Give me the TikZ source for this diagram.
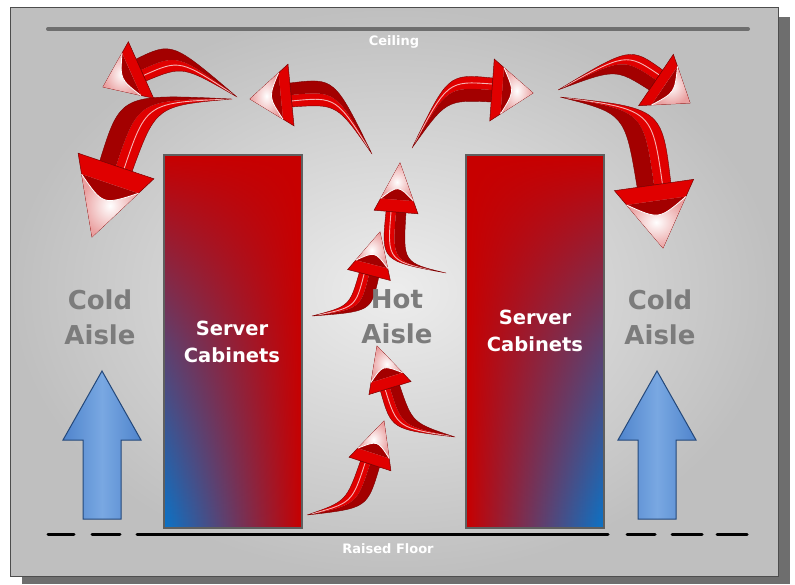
\documentclass[tikz,border=0pt]{standalone}
\usepackage{fontspec}
\setmainfont{DejaVu Sans}
\usetikzlibrary{calc,fadings}
\definecolor{bgin}{HTML}{EDEDED}
\definecolor{bgout}{HTML}{BFBFBF}
\definecolor{shadowgrey}{HTML}{6E6E6E}
\definecolor{framegrey}{HTML}{4D4D4D}
\definecolor{ceilgrey}{HTML}{6E6E6E}
\definecolor{cabred}{HTML}{C80000}
\definecolor{cabblue}{HTML}{0A74C8}
\definecolor{cabedge}{HTML}{5F5F5F}
\definecolor{aislegrey}{HTML}{7C7C7C}
\definecolor{coldblue}{HTML}{4F84CC}
\definecolor{coldlight}{HTML}{79A8E2}
\definecolor{coldedge}{HTML}{24487A}
\definecolor{arrowred}{HTML}{E00000}
\definecolor{arrowdark}{HTML}{A30000}
\definecolor{arrowedge}{HTML}{7A0000}
\definecolor{arrowpink}{HTML}{EAA0A0}

\tikzfading[name=cabfade, top color=transparent!0, bottom color=transparent!100, middle color=transparent!55]

% curved red arrow: tail, head base, tip, bend, head half width, shaft half width
\newcommand{\hotarrow}[6]{%
  \coordinate (aT) at #1;
  \coordinate (aB) at #2;
  \coordinate (aP) at #3;
  \coordinate (aC) at ($(aB)!#4pt!180:(aP)$);
  \coordinate (aL) at ($(aB)!#6pt!90:(aP)$);
  \coordinate (aR) at ($(aB)!#6pt!-90:(aP)$);
  \coordinate (aCL) at ($(aC)!1.1*#6pt!90:(aB)$);
  \coordinate (aCR) at ($(aC)!1.1*#6pt!-90:(aB)$);
  \coordinate (aH1) at ($(aB)!#5pt!90:(aP)$);
  \coordinate (aH2) at ($(aB)!#5pt!-90:(aP)$);
  \coordinate (aF1) at ($(aH1)!0.25!(aP)$);
  \coordinate (aF2) at ($(aH2)!0.25!(aP)$);
  \fill[arrowred] (aT) .. controls (aCL) .. (aL) -- (aB) .. controls (aC) .. (aT) -- cycle;
  \fill[arrowdark] (aT) .. controls (aCR) .. (aR) -- (aB) .. controls (aC) .. (aT) -- cycle;
  \draw[white, opacity=0.7, line width=0.9pt] (aT) .. controls ($(aC)!0.5*#6pt!90:(aB)$) .. ($(aB)!0.5*#6pt!90:(aP)$);
  \draw[arrowedge, line width=0.4pt] (aT) .. controls (aCL) .. (aL) -- (aR) .. controls (aCR) .. (aT);
  \filldraw[fill=arrowred, draw=arrowedge, line width=0.5pt] (aH1) -- (aP) -- (aH2) -- cycle;
  \shade[inner color=white, outer color=arrowpink] (aF1) -- (aP) -- (aF2) -- cycle;
  \fill[arrowdark] (aF1) .. controls ($(aB)!0.55!(aP)$) .. (aF2) -- cycle;
  \draw[white, line width=0.8pt] (aF1) .. controls ($(aB)!0.55!(aP)$) .. (aF2);
}

\begin{document}
\begin{tikzpicture}[x=1pt, y=-1pt,
    frame/.style={draw=framegrey, line width=1pt},
    cabinet/.style={draw=cabedge, line width=1.5pt},
    aisle/.style={font=\fontsize{26}{35}\selectfont\bfseries, text=aislegrey, align=center, inner sep=0pt},
    cabtext/.style={font=\fontsize{19.5}{26.5}\selectfont\bfseries, text=white, align=center, inner sep=0pt},
    edgetext/.style={font=\fontsize{13}{15}\selectfont\bfseries, text=white, anchor=base, inner sep=0pt},
    coldarrow/.style={draw=coldedge, line width=1pt, left color=coldblue, right color=coldblue, middle color=coldlight},
    floorline/.style={line width=3pt, line cap=round}]
  \useasboundingbox (0,0) rectangle (795,584);
  % frame with shadow
  \fill[shadowgrey] (22,17) rectangle (790,584);
  \shade[inner color=bgin, outer color=bgout] (10,7) rectangle (778,576);
  \draw[frame] (10,7) rectangle (778,576);
  % ceiling and raised floor
  \draw[line width=4pt, ceilgrey, line cap=round] (48,29) -- (748,29);
  \node[edgetext] (ceiling) at (394,45) {Ceiling};
  \foreach \a/\b in {48/74, 92/120, 137/608, 627/655, 672/702, 717/747}
    \draw[floorline] (\a,534) -- (\b,534);
  \node[edgetext] (floor) at (388,553) {Raised Floor};
  % server cabinets
  \shade[left color=cabblue, right color=cabred] (164,155) rectangle (302,528);
  \fill[cabred, path fading=cabfade] (164,155) rectangle (302,528);
  \draw[cabinet] (164,155) rectangle (302,528);
  \shade[left color=cabred, right color=cabblue] (466,155) rectangle (604,528);
  \fill[cabred, path fading=cabfade] (466,155) rectangle (604,528);
  \draw[cabinet] (466,155) rectangle (604,528);
  % cold air
  \foreach \x in {102,657}
    \draw[coldarrow] (\x,371) -- (\x+39,440) -- (\x+19,440) -- (\x+19,519)
      -- (\x-19,519) -- (\x-19,440) -- (\x-39,440) -- cycle;
  % hot air rising
  \foreach \tx/\ty/\bx/\by/\px/\py/\s in {307/515/370/464/384/421/43,
      455/437/390/388/377/346/40, 312/316/369/275/380/232/35,
      446/273/396/212/400/163/50}
    \hotarrow{(\tx,\ty)}{(\bx,\by)}{(\px,\py)}{\s}{22}{10};
  % hot air at the ceiling
  \foreach \tx/\ty/\bx/\by/\px/\py/\s/\hw/\ws in {232/99/116/166/92/237/70/40/17,
      237/97/141/70/103/87/40/31/12, 372/154/291/95/250/99/45/31/12,
      412/148/492/90/533/93/45/31/12, 558/90/656/80/690/103/40/31/12,
      560/97/654/185/663/248/75/40/17}
    \hotarrow{(\tx,\ty)}{(\bx,\by)}{(\px,\py)}{\s}{\hw}{\ws};
  % labels
  \node[aisle] (coldL) at (100,317) {Cold\\Aisle};
  \node[aisle] (hot) at (397,317) {Hot\\Aisle};
  \node[aisle] (coldR) at (660,317) {Cold\\Aisle};
  \node[cabtext] (srvL) at (232,342) {Server\\Cabinets};
  \node[cabtext] (srvR) at (535,331) {Server\\Cabinets};
\end{tikzpicture}
\end{document}
